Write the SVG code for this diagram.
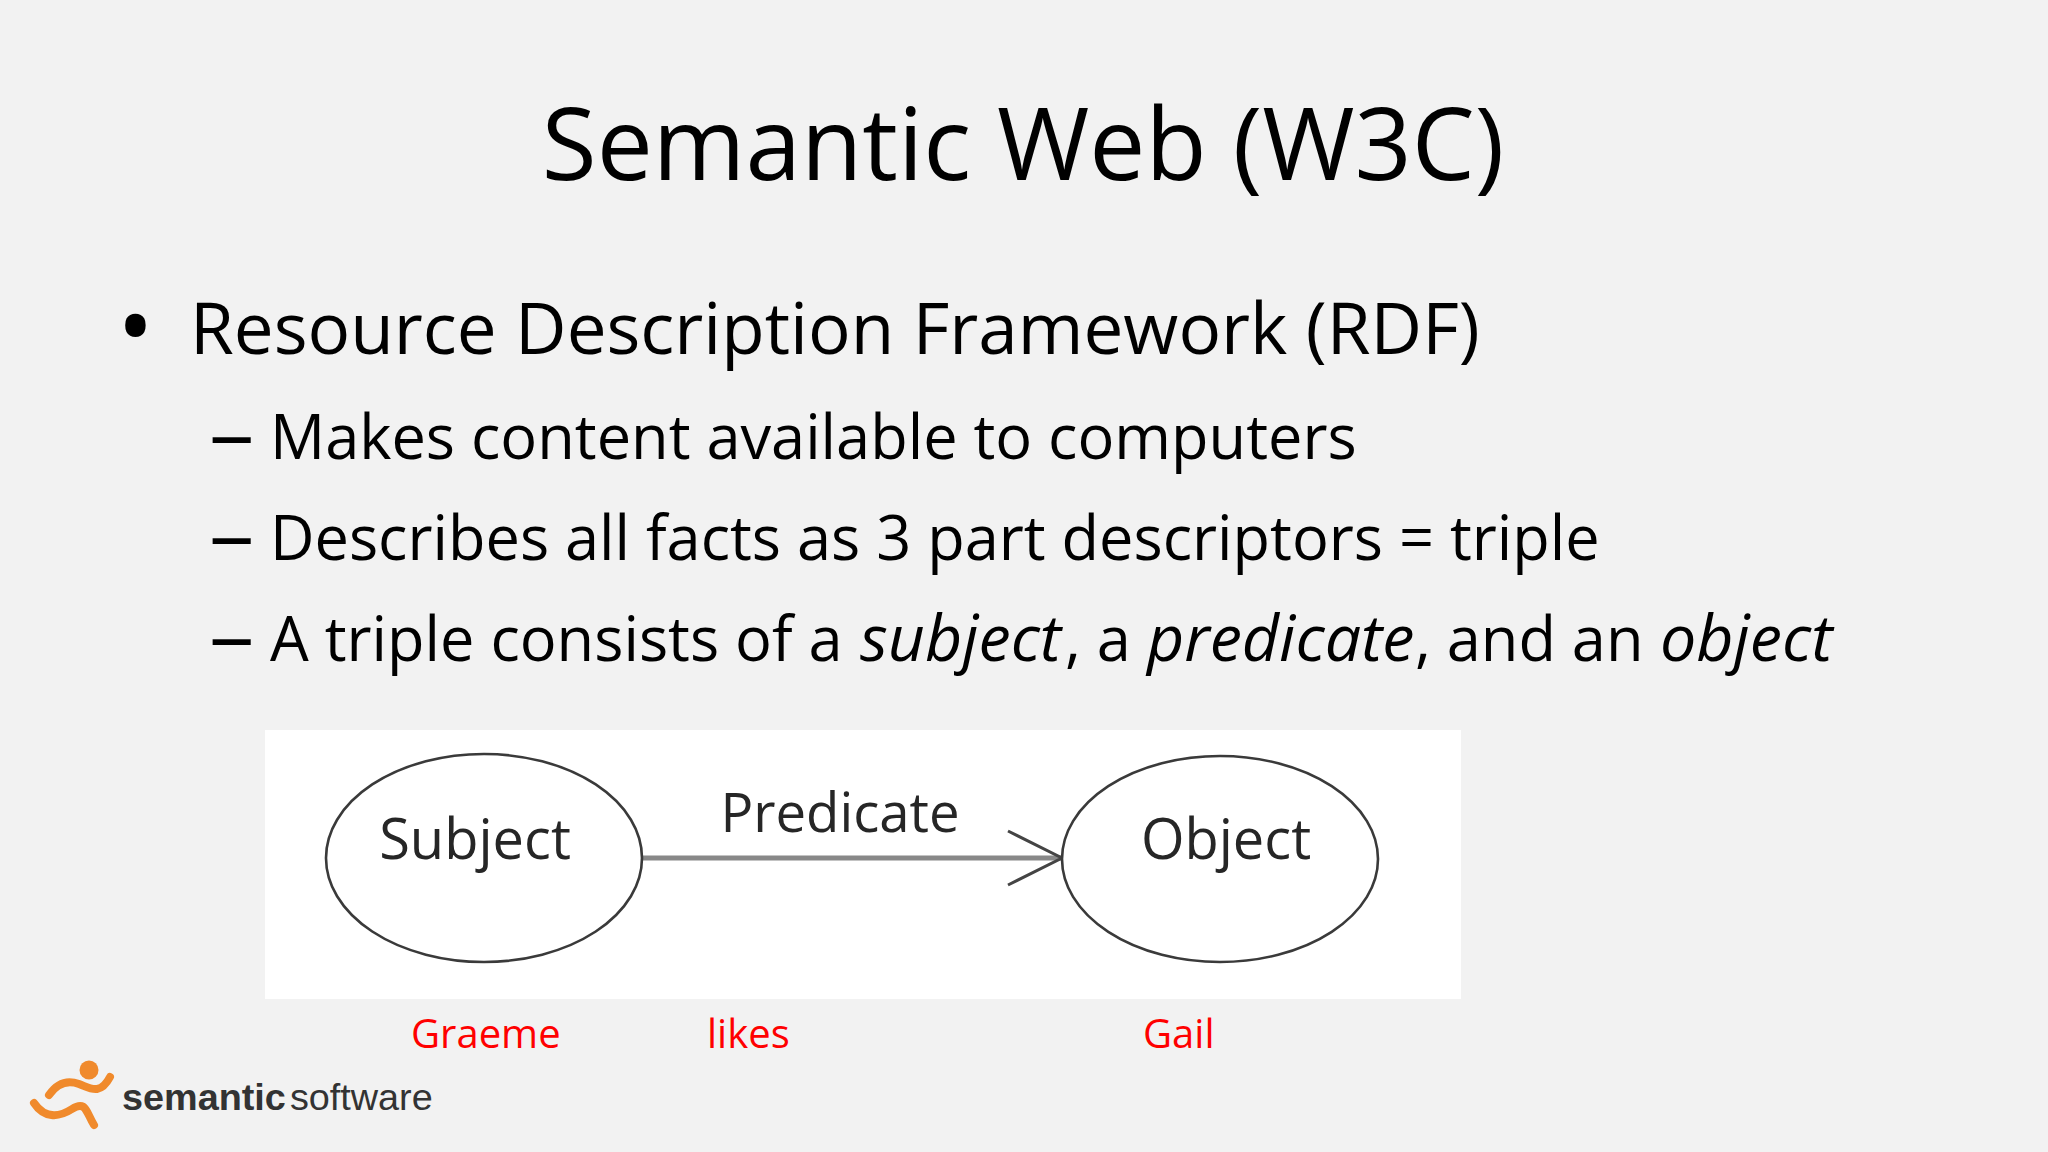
<svg xmlns="http://www.w3.org/2000/svg" width="2048" height="1152" viewBox="0 0 2048 1152">
<style>
text{font-family:"Open Sans","Noto Sans","Liberation Sans",sans-serif;fill:#000}
.t{font-size:100px}
.b1{font-size:71px}
.b2{font-size:61.3px}
.i{font-style:italic;font-size:64.5px}
.red{font-size:40px;fill:#f00}
.d{fill:#fff;stroke:#3a3a3a;stroke-width:2.6}
.l{font-size:56px;fill:#262626}
.s{fill:none;stroke:#f08a2c;stroke-width:8;stroke-linecap:round}
</style>
<rect width="2048" height="1152" fill="#f2f2f2"/>
<text class="t" x="1023" y="180" text-anchor="middle">Semantic Web (W3C)</text>
<text x="117" y="362" font-size="98">•</text>
<text class="b1" x="190" y="354">Resource Description Framework (RDF)</text>
<text class="b2" transform="translate(209,462) scale(1.48,1.3)">–</text><text class="b2" x="270" y="459">Makes content available to computers</text>
<text class="b2" transform="translate(209,563) scale(1.48,1.3)">–</text><text class="b2" x="270" y="560">Describes all facts as 3 part descriptors = triple</text>
<text class="b2" transform="translate(209,664) scale(1.48,1.3)">–</text><text class="b2" x="270" y="661">A triple consists of a <tspan class="i" x="860">subject</tspan><tspan x="1065">, a</tspan><tspan class="i" x="1147">predicate</tspan><tspan x="1415">, and an</tspan><tspan class="i" x="1660">object</tspan></text>
<rect x="265" y="730" width="1196" height="269" fill="#fff"/>
<g id="connectors"><path d="M642 858H1062" fill="none" stroke="#888" stroke-width="5"/><path d="M1008 831L1062 858L1008 885" fill="none" stroke="#444" stroke-width="3"/></g>
<g id="subject"><ellipse class="d" cx="484" cy="858" rx="158" ry="104"/><text class="l" x="475" y="859" text-anchor="middle">Subject</text></g>
<g id="predicate"><text class="l" x="840" y="832" text-anchor="middle" style="font-size:54.5px">Predicate</text></g>
<g id="object"><ellipse class="d" cx="1220" cy="859" rx="158" ry="103"/><text class="l" x="1226" y="859" text-anchor="middle">Object</text></g>
<text class="red" x="411" y="1048">Graeme</text>
<text class="red" x="707" y="1048">likes</text>
<text class="red" x="1143" y="1048">Gail</text>
<g id="logo">
<circle cx="89" cy="1070" r="9.5" fill="#f08a2c"/>
<path class="s" d="M49 1095C58 1082 68 1080 79 1084S100 1096 110 1077"/>
<path class="s" d="M34 1103C44 1118 58 1118 72 1109S86 1112 94 1125"/>
<text x="122" y="1110" font-size="37.8" style="font-family:'Liberation Sans',sans-serif;fill:#333"><tspan font-weight="bold">semantic</tspan><tspan dx="4">software</tspan></text>
</g>
</svg>
